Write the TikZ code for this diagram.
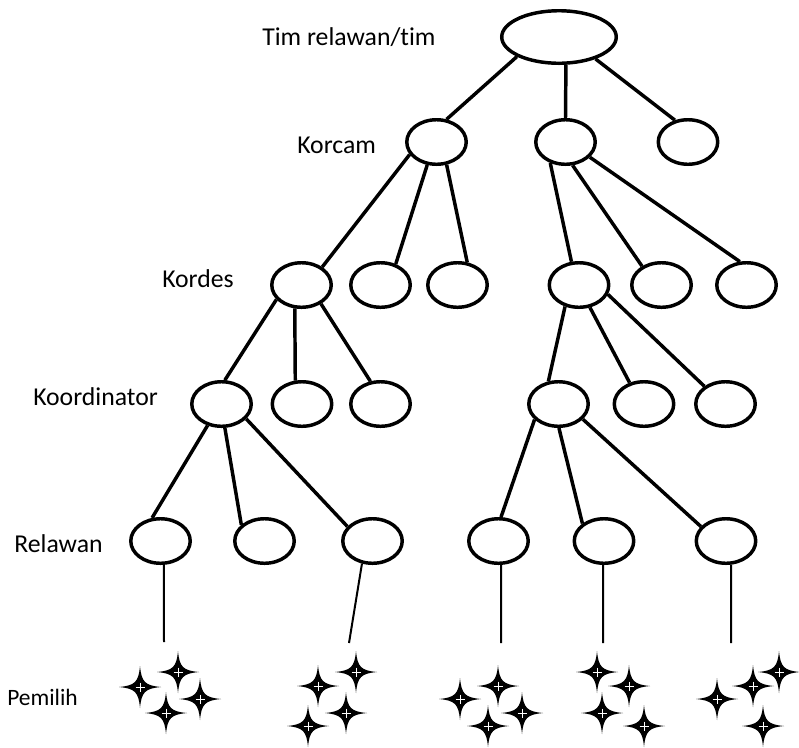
\documentclass[tikz,border=0pt]{standalone}
\usepackage{fontspec}
\setmainfont{Carlito}[Ligatures=NoCommon]
\usetikzlibrary{shapes.geometric}

\begin{document}
\begin{tikzpicture}[
  x=0.75pt,y=-0.75pt,
  font=\fontsize{19.3}{23}\selectfont,
  unit/.style={draw,ellipse,line width=2.6pt,inner sep=0pt,minimum width=44.6pt,minimum height=33.4pt},
  head/.style={unit,minimum width=85.9pt,minimum height=39.4pt},
  tie/.style={line width=2.6pt},
  feed/.style={line width=1.5pt},
  level/.style={anchor=base west,inner sep=0pt},
  sparkle/.pic={
    \fill (0,21) .. controls (1.5,5) and (5,1.5) .. (21,0) .. controls (5,-1.5) and (1.5,-5) .. (0,-21)
      .. controls (-1.5,-5) and (-5,-1.5) .. (-21,0) .. controls (-5,1.5) and (-1.5,5) .. cycle;
    \draw[white,line width=0.45pt] (-4.5,0) -- (4.5,0) (0,-4.5) -- (0,4.5);
  },
]
\useasboundingbox (0,0) rectangle (799,747);

% level labels
\node[level] (lroot) at (262,45) {Tim relawan/tim};
\node[level] (lkorcam) at (297,153) {Korcam};
\node[level] (lkordes) at (162,287) {Kordes};
\node[level] (lkoord) at (33,405) {Koordinator};
\node[level] (lrelawan) at (14,552) {Relawan};
\node[level,font=\fontsize{17.6}{21}\selectfont] (lpemilih) at (7,705) {Pemilih};

\node[head] (root) at (559,37) {};

\node[unit] (c1) at (436.5,142) {};
\node[unit] (c2) at (565.5,142) {};
\node[unit] (c3) at (688,142) {};

\node[unit] (d1) at (301.5,285) {};
\node[unit] (d2) at (380.5,285) {};
\node[unit] (d3) at (457.5,285) {};
\node[unit] (d4) at (579,285) {};
\node[unit] (d5) at (661.5,285) {};
\node[unit] (d6) at (746.5,285) {};

\node[unit] (k1) at (221.5,404) {};
\node[unit] (k2) at (302,404) {};
\node[unit] (k3) at (380.5,404) {};
\node[unit] (k4) at (558.5,404) {};
\node[unit] (k5) at (644,404) {};
\node[unit] (k6) at (725.5,404) {};

\node[unit] (r1) at (160.5,541) {};
\node[unit] (r2) at (264.5,541) {};
\node[unit] (r3) at (372.5,541) {};
\node[unit] (r4) at (498.5,541) {};
\node[unit] (r5) at (604,541) {};
\node[unit] (r6) at (726,541) {};

\draw[tie] (root.205) -- (c1.66);
\draw[tie] (root.284) -- (c2.north);
\draw[tie] (root.329) -- (c3.121);

\draw[tie] (c1.205) -- (d1.41);
\draw[tie] (c1.248) -- (d2.54);
\draw[tie] (c1.294) -- (d3.67);
\draw[tie] (c2.234) -- (d4.108);
\draw[tie] (c2.287) -- (d5.136);
\draw[tie] (c2.328) -- (d6.106);

\draw[tie] (d1.210) -- (k1.82);
\draw[tie] (d1.254) -- (k2.106);
\draw[tie] (d1.316) -- (k3.114);
\draw[tie] (d4.237) -- (k4.114);
\draw[tie] (d4.296) -- (k5.124);
\draw[tie] (d4.342) -- (k6.140);

\draw[tie] (k1.237) -- (r1.110);
\draw[tie] (k1.278) -- (r2.145);
\draw[tie] (k1.329) -- (r3.150);
\draw[tie] (k4.213) -- (r4.84);
\draw[tie] (k4.271) -- (r5.141);
\draw[tie] (k4.328) -- (r6.150);

% voters under each relawan
\coordinate (p1) at (164,642);
\coordinate (p3) at (349,643);
\coordinate (p4) at (501,643);
\coordinate (p5) at (603,643);
\coordinate (p6) at (731,643);
\draw[feed] (r1.278) -- (p1);
\draw[feed] (r3.245) -- (p3);
\draw[feed] (r4.276) -- (p4);
\draw[feed] (r5.268) -- (p5);
\draw[feed] (r6.282) -- (p6);

\foreach \x/\y in {140/687,178/672,200/699,166/713,
                   318/686,356/672,346/713,308/726,
                   460/699,498/686,522/713,488/726,
                   597/672,629/686,602/713,644/726,
                   717/699,753/686,779/672,763/726}
  \pic at (\x,\y) {sparkle};
\end{tikzpicture}
\end{document}
